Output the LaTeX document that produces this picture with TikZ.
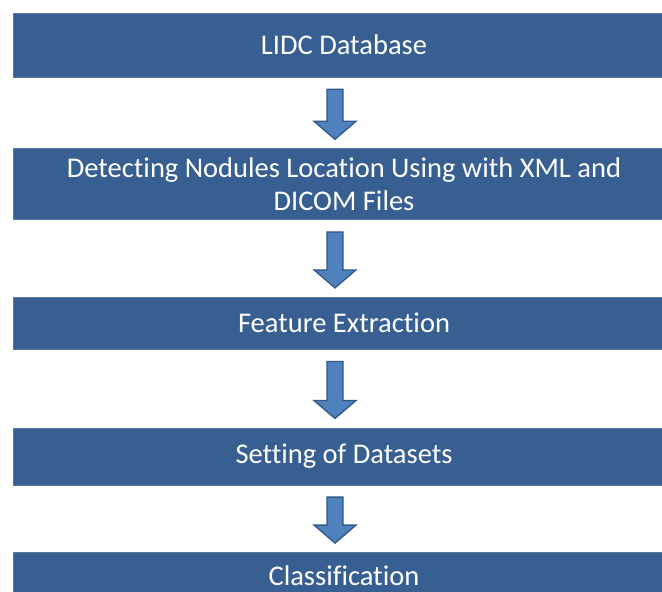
\documentclass[tikz,border=0pt]{standalone}
\usepackage{fontspec}
\setmainfont{Carlito}[Ligatures=NoCommon]
\usetikzlibrary{positioning,calc}

\definecolor{boxblue}{RGB}{55,95,145}
\definecolor{boxedge}{RGB}{92,120,158}
\definecolor{arrowblue}{RGB}{79,129,189}
\definecolor{arrowedge}{RGB}{50,88,138}

% fat block arrow from the bottom of one box to the top of the next
\newcommand{\blockarrow}[2]{%
  \path let \p1=($(#1.south)+(-9pt,-12pt)$), \p2=($(#2.north)+(-9pt,9pt)$) in
    [arr] (\x1-8pt,\y1) -- (\x1+8pt,\y1) -- (\x1+8pt,\y2+18pt) -- (\x1+21pt,\y2+18pt)
    -- (\x1,\y2) -- (\x1-21pt,\y2+18pt) -- (\x1-8pt,\y2+18pt) -- cycle;}

\begin{document}
\begin{tikzpicture}[
  font=\fontsize{28.5pt}{33pt}\selectfont,
  box/.style={fill=boxblue, draw=boxedge, line width=0.6pt, text=white, align=center,
    minimum width=662pt, inner sep=0pt},
  arr/.style={fill=arrowblue, draw=arrowedge, line width=1.3pt, line join=miter}
]
\clip (0,0) rectangle (662pt,-592pt);
\node[box, minimum height=64pt] (db) at (344pt,-45pt) {LIDC Database};
\node[box, minimum height=71pt, below=71pt of db] (det) {Detecting Nodules Location Using with XML and\\DICOM Files};
\node[box, minimum height=52pt, below=77pt of det] (feat) {Feature Extraction};
\node[box, minimum height=57pt, below=78pt of feat] (sets) {Setting of Datasets};
\node[box, minimum height=46pt, below=67pt of sets] (cls) {Classification};
\blockarrow{db}{det}
\blockarrow{det}{feat}
\blockarrow{feat}{sets}
\blockarrow{sets}{cls}
\end{tikzpicture}
\end{document}
